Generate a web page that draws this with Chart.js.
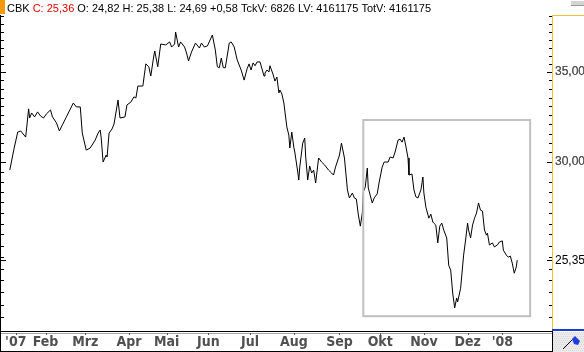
<!DOCTYPE html>
<html lang="de">
<head>
<meta charset="UTF-8" />
<title>CBK Kursverlauf</title>
<script src="https://cdn.jsdelivr.net/npm/chart.js"></script>
<style>
  html, body { margin: 0; padding: 0; background: #fff; }
  #wrap { width: 584px; height: 352px; position: relative; }
</style>
</head>
<body>
<div id="wrap"><canvas id="kurs"></canvas></div>
<script>
  // session index (x) and close price (y)
  const sessionIdx = [
    4, 8, 12, 15, 20, 21, 23, 24, 26, 29,
    32, 35, 38, 41, 45, 47, 51, 54, 57, 61,
    68, 71, 75, 77, 81, 85, 90, 93, 95, 96,
    98, 101, 102, 104, 107, 109, 113, 115, 120, 122,
    126, 129, 131, 133, 138, 141, 144, 146, 149, 150,
    153, 156, 161, 165, 167, 170, 171, 174, 176, 180,
    182, 184, 187, 191, 195, 197, 200, 203, 208, 211,
    213, 215, 217, 219, 221, 222, 225, 227, 230, 233,
    237, 240, 243, 245, 247, 249, 251, 253, 256, 260,
    261, 263, 265, 266, 269, 271, 273, 275, 276, 278,
    280, 283, 285, 286, 288, 290, 291, 294, 295, 296,
    299, 301, 302, 304, 306, 308, 310, 312, 315, 318,
    321, 325, 328, 330, 332, 336, 338, 341, 344, 346,
    349, 351, 353, 355, 357, 359, 360, 362, 364, 365,
    369, 371, 374, 376, 379, 381, 385, 387, 390, 392,
    395, 397, 399, 401, 403, 405, 406, 409, 411, 413,
    415, 418, 420, 421, 423, 426, 428, 430, 431, 433,
    435, 437, 439, 441, 444, 446, 448, 450, 452, 454,
    455, 458, 461, 463, 465, 466, 468, 470, 472, 474,
    476, 478, 480, 482, 484, 485, 487, 490, 492, 495,
    497, 500, 501, 504, 506, 508, 510, 511, 512, 514,
    515
  ];
  const closes = [
    29.59, 30.62, 31.58, 31.64, 31.31, 31.80, 32.86, 32.35, 32.63, 32.41,
    32.69, 32.46, 32.35, 32.58, 32.80, 32.41, 32.08, 31.64, 31.97, 32.41,
    33.19, 32.97, 32.97, 31.53, 30.62, 30.73, 31.15, 31.53, 31.69, 31.31,
    30.00, 30.36, 30.26, 31.53, 31.75, 32.02, 33.36, 32.35, 32.41, 33.08,
    33.25, 33.54, 33.48, 34.17, 34.17, 35.49, 35.32, 34.76, 35.97, 36.28,
    35.32, 36.72, 36.66, 36.85, 36.53, 36.72, 37.48, 36.53, 36.85, 36.53,
    36.16, 35.67, 36.22, 36.78, 36.47, 36.78, 36.53, 36.60, 37.29, 36.34,
    35.32, 35.26, 35.85, 35.26, 35.26, 35.61, 36.78, 36.85, 36.53, 35.73,
    35.12, 34.52, 35.20, 35.49, 35.12, 35.55, 35.38, 35.61, 35.61, 34.76,
    34.94, 35.12, 35.00, 35.38, 34.88, 34.46, 34.70, 33.77, 33.94, 33.71,
    33.19, 31.86, 31.42, 30.73, 31.58, 30.78, 30.52, 29.49, 29.09, 29.74,
    30.99, 31.26, 30.26, 29.09, 29.80, 29.44, 29.59, 28.94, 30.21, 30.00,
    29.85, 29.59, 29.44, 29.34, 29.74, 30.36, 30.99, 30.21, 28.60, 28.21,
    28.45, 28.21, 28.16, 27.40, 26.88, 27.49, 28.50, 28.75, 29.69, 28.70,
    27.97, 28.21, 28.41, 28.99, 29.74, 30.00, 30.00, 30.26, 30.21, 30.52,
    31.15, 31.20, 31.04, 31.31, 30.78, 30.21, 29.34, 29.39, 28.60, 28.26,
    28.21, 28.60, 29.24, 28.45, 27.77, 27.25, 27.44, 27.07, 27.02, 26.93,
    26.12, 26.88, 27.02, 26.70, 26.34, 25.14, 24.93, 23.97, 23.37, 23.77,
    23.61, 24.17, 25.58, 26.25, 27.02, 26.70, 26.34, 26.93, 27.25, 27.49,
    27.97, 27.63, 27.58, 26.70, 26.47, 26.56, 26.03, 26.12, 25.94, 26.03,
    26.16, 26.21, 25.80, 25.58, 25.49, 25.54, 25.23, 25.01, 24.80, 25.06,
    25.36
  ];

  const monthLabels = ["'07", 'Feb', 'Mrz', 'Apr', 'Mai', 'Jun', 'Jul', 'Aug', 'Sep', 'Okt', 'Nov', 'Dez', "'08"];
  const monthPos = [10, 40, 80, 124, 162, 204, 246, 290, 336, 377, 421, 465, 500];

  const yMinorTicks = [
    23, 23.5, 24, 24.5, 25, 25.5, 26, 26.5, 27, 27.5, 28, 28.5, 29, 29.5, 30, 30.5,
    31, 31.5, 32, 32.5, 33, 33.5, 34, 34.5, 35, 35.5, 36, 36.5, 37, 37.5, 38, 38.5
  ];
  const yLabelTicks = [35, 30, 25.35];
  const lastPrice = 25.35;

  // grey selection frame (session range / price range)
  const frameSessions = [360, 528];
  const framePrices = [32.24, 23.04];

  const headerParts = [
    ['CBK ', '#000'],
    ['C: 25,36', '#e00000'],
    [' O: 24,82 H: 25,38 L: 24,69 +0,58 TckV: 6826 LV: 4161175 TotV: 4161175', '#000']
  ];

  const frame = {
    id: 'frame',
    beforeDraw(chart) {
      const c = chart.ctx;
      c.save();
      c.fillStyle = '#fff';
      c.fillRect(0, 0, chart.width, chart.height);
      c.restore();
    },
    afterDraw(chart) {
      const c = chart.ctx;
      const a = chart.chartArea;
      const x = chart.scales.x, y = chart.scales.y;
      c.save();

      // header
      c.fillStyle = '#f29a0c';
      c.fillRect(0, 0, 5, 14);
      c.font = '11px "Liberation Sans", Arial, sans-serif';
      c.textBaseline = 'alphabetic';
      let tx = 7;
      headerParts.forEach(p => {
        c.fillStyle = p[1];
        c.fillText(p[0], tx, 12);
        tx += c.measureText(p[0]).width;
      });
      // little button top right
      c.fillStyle = '#d4d4d4';
      c.fillRect(571, 1, 13, 4);
      c.fillStyle = '#9a9a9a';
      c.fillRect(571, 5, 13, 1);

      // left axis line
      c.fillStyle = '#000';
      c.fillRect(0, a.top, 1, a.bottom - a.top + 2);

      // inward ticks on both sides
      c.strokeStyle = '#000';
      c.lineWidth = 1;
      const allTicks = yMinorTicks.concat(yLabelTicks);
      allTicks.forEach(v => {
        const py = Math.round(y.getPixelForValue(v)) + 0.5;
        const len = yLabelTicks.includes(v) ? 5 : 3;
        c.beginPath();
        c.moveTo(a.right - len, py); c.lineTo(a.right, py);
        c.moveTo(1, py); c.lineTo(1 + len, py);
        c.stroke();
      });

      // grey selection frame
      const fx0 = x.getPixelForValue(frameSessions[0]);
      const fx1 = x.getPixelForValue(frameSessions[1]);
      const fy0 = y.getPixelForValue(framePrices[0]);
      const fy1 = y.getPixelForValue(framePrices[1]);
      c.strokeStyle = '#c0c0c0';
      c.lineWidth = 2;
      c.strokeRect(fx0, fy0, fx1 - fx0, fy1 - fy0);

      // yellow frame top right
      c.fillStyle = '#f0c030';
      c.fillRect(a.right, a.top, chart.width - a.right, 1);

      // date axis panel
      c.fillStyle = '#000';
      c.fillRect(0, 331, a.right, 1);
      c.fillRect(0, 351, a.right, 1);
      c.fillRect(0, 331, 1, 21);
      c.fillRect(a.right, 331, 1, 21);
      c.fillStyle = '#a8a8a8';
      c.fillRect(1, 333, a.right - 1, 1);
      c.fillStyle = '#555';
      monthPos.forEach(v => {
        const px = Math.round(x.getPixelForValue(v));
        c.fillRect(px, 333, 1, 2);
      });

      // corner box with flag
      c.fillStyle = '#ececec';
      c.fillRect(a.right + 1, 332, chart.width - a.right - 1, 20);
      c.fillStyle = '#d6d6d6';
      for (let yy = 332; yy < 352; yy += 2) {
        for (let xx = a.right + 1 + (yy % 4 === 0 ? 0 : 1); xx < chart.width; xx += 2) {
          c.fillRect(xx, yy, 1, 1);
        }
      }
      c.fillStyle = '#1a3fcc';
      c.fillRect(a.right, 329, chart.width - a.right, 2);
      c.strokeStyle = '#000';
      c.lineWidth = 1;
      c.beginPath();
      c.moveTo(563, 349); c.lineTo(573, 339);
      c.stroke();
      c.fillStyle = '#1f3fd8';
      c.beginPath();
      c.moveTo(572, 339); c.lineTo(575, 336); c.lineTo(580, 341);
      c.lineTo(578, 345); c.lineTo(574, 344);
      c.closePath();
      c.fill();

      c.restore();
    }
  };

  new Chart(document.getElementById('kurs'), {
    type: 'line',
    data: {
      datasets: [{
        data: sessionIdx.map((s, i) => ({ x: s, y: closes[i] })),
        borderColor: '#000',
        borderWidth: 1,
        pointRadius: 0,
        tension: 0,
        fill: false
      }]
    },
    options: {
      responsive: true,
      maintainAspectRatio: false,
      animation: false,
      devicePixelRatio: 1,
      layout: { padding: { top: 15, left: 2, right: 0, bottom: 0 } },
      plugins: { legend: { display: false }, tooltip: { enabled: false } },
      scales: {
        x: {
          type: 'linear',
          min: 0,
          max: 550,
          position: 'bottom',
          grid: { display: false, drawTicks: false },
          border: { display: false },
          afterBuildTicks: s => { s.ticks = monthPos.map(v => ({ value: v })); },
          afterFit: s => { s.height = 23; },
          ticks: {
            autoSkip: false,
            maxRotation: 0,
            padding: 5,
            color: '#505050',
            font: { family: '"Liberation Sans Narrow", "DejaVu Sans Condensed", Arial, sans-serif', weight: 'bold', size: 14 },
            callback: (v, i) => monthLabels[i]
          }
        },
        y: {
          type: 'logarithmic',
          position: 'right',
          min: 22.54,
          max: 38.59,
          grid: { display: false, drawTicks: false },
          border: { display: true, color: '#f0c030', width: 1 },
          afterBuildTicks: s => { s.ticks = yMinorTicks.concat(yLabelTicks).map(v => ({ value: v })); },
          afterFit: s => { s.width = 32; },
          ticks: {
            autoSkip: false,
            padding: 3,
            font: { family: '"Liberation Sans", Arial, sans-serif', size: 12 },
            color: ctx => (ctx.tick && ctx.tick.value === lastPrice) ? '#000' : '#555',
            callback: v => yLabelTicks.includes(v) ? v.toFixed(2).replace('.', ',') : ''
          }
        }
      }
    },
    plugins: [frame]
  });
</script>
</body>
</html>
